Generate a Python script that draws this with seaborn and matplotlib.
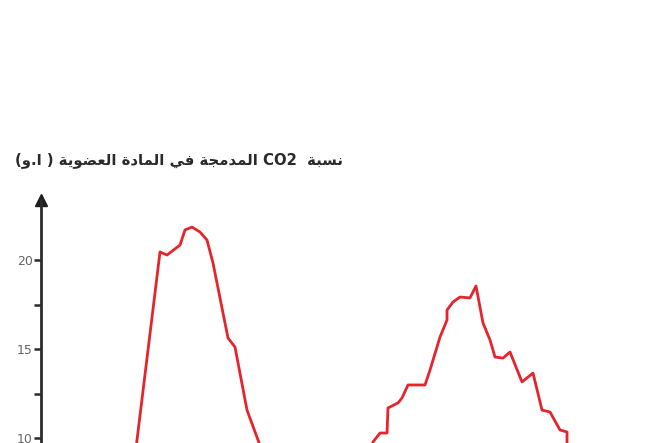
import numpy as np
import pandas as pd
import matplotlib
matplotlib.use("Agg")
import matplotlib.pyplot as plt
import seaborn as sns

# Time axis (arbitrary units) and CO2 incorporated into organic matter (a.u.)
time = [9.2, 9.6, 11.9, 12.6, 13.9, 14.4, 15.1, 15.9, 16.6, 17.2, 18.7, 19.4,
        20.6, 21.7, 22.9,
        32.4, 33.2, 33.9, 34.6, 34.7, 35.7, 36.1, 36.7, 38.4, 38.9, 39.9,
        40.6, 40.6, 41.2, 41.9, 42.9, 43.5, 44.2, 44.9, 45.4, 46.2, 46.9,
        48.1, 49.2, 50.1, 50.9, 51.9, 52.6, 52.6, 52.7]
co2 = [8.0, 9.89, 20.45, 20.28, 20.84, 21.69, 21.85, 21.57, 21.12, 19.83,
       15.62, 15.11, 11.57, 9.89, 8.0,
       8.0, 9.78, 10.28, 10.28, 11.69, 11.97, 12.25, 12.98, 12.98, 13.82,
       15.67, 16.63, 17.19, 17.64, 17.92, 17.87, 18.54, 16.46, 15.51, 14.55,
       14.49, 14.83, 13.15, 13.65, 11.57, 11.46, 10.45, 10.34, 9.72, 8.0]
order = list(range(len(time)))

ytick_major = [10, 15, 20]
ytick_minor = [12.5, 17.5]

title_words = ["نسبة", "CO2", "المدمجة", "في", "المادة", "العضوية"]
unit_label = "(\uFEED.\uFE8D )"

# Contextual Arabic letter forms: isolated, final, initial, medial
FORMS = {
    "ا": ("\uFE8D", "\uFE8E", None, None),
    "ب": ("\uFE8F", "\uFE90", "\uFE91", "\uFE92"),
    "ة": ("\uFE93", "\uFE94", None, None),
    "ج": ("\uFE9D", "\uFE9E", "\uFE9F", "\uFEA0"),
    "د": ("\uFEA9", "\uFEAA", None, None),
    "س": ("\uFEB1", "\uFEB2", "\uFEB3", "\uFEB4"),
    "ض": ("\uFEBD", "\uFEBE", "\uFEBF", "\uFEC0"),
    "ع": ("\uFEC9", "\uFECA", "\uFECB", "\uFECC"),
    "ف": ("\uFED1", "\uFED2", "\uFED3", "\uFED4"),
    "ل": ("\uFEDD", "\uFEDE", "\uFEDF", "\uFEE0"),
    "م": ("\uFEE1", "\uFEE2", "\uFEE3", "\uFEE4"),
    "ن": ("\uFEE5", "\uFEE6", "\uFEE7", "\uFEE8"),
    "و": ("\uFEED", "\uFEEE", None, None),
    "ي": ("\uFEF1", "\uFEF2", "\uFEF3", "\uFEF4"),
}


def shape(word):
    """Join Arabic letters and return them in visual (left-to-right) order."""
    if not any(ch in FORMS for ch in word):
        return word
    out = []
    for i, ch in enumerate(word):
        f = FORMS[ch]
        prev_joins = i > 0 and FORMS[word[i - 1]][2] is not None
        next_joins = f[2] is not None and i + 1 < len(word)
        if prev_joins and next_joins:
            g = f[3]
        elif prev_joins:
            g = f[1]
        elif next_joins:
            g = f[2]
        else:
            g = f[0]
        out.append(g)
    return "".join(reversed(out))


visual = [shape(w) for w in reversed(title_words)]
title_text = unit_label + " " + " ".join(visual[:-1]) + "  " + visual[-1]

df = pd.DataFrame({"time": time, "co2": co2, "order": order})

sns.set_theme(style="white")
plt.rcParams["font.family"] = ["DejaVu Sans"]

W, H = 668, 443
fig = plt.figure(figsize=(W / 100, H / 100), dpi=100)
fig.patch.set_facecolor("white")

ax_left, ax_top = 41, 200
ax = fig.add_axes([ax_left / W, 0, 1 - ax_left / W, (H - ax_top) / H])

sns.lineplot(data=df, x="time", y="co2", ax=ax, estimator=None, sort=False,
             color="#e5242c", linewidth=2.0)

ax.set_xlim(0, (W - ax_left) / 10)
ax.set_ylim(9.72, 20 + (260 - ax_top) / 17.8)

for side in ["top", "right", "bottom"]:
    ax.spines[side].set_visible(False)
ax.spines["left"].set_color("#2b2b2b")
ax.spines["left"].set_linewidth(2.0)

ax.set_xticks([])
ax.set_yticks(ytick_major)
ax.set_yticks(ytick_minor, minor=True)
ax.set_yticklabels([str(v) for v in ytick_major])
ax.tick_params(axis="y", which="both", direction="out", left=True,
               length=5, width=1.8, color="#2b2b2b", pad=1,
               labelsize=9, labelcolor="#666666")
ax.set_xlabel("")
ax.set_ylabel("")

# Arrow head at the top of the vertical axis
ax.plot([0], [1.0], marker="^", markersize=9, color="#1e1e1e",
        transform=ax.transAxes, clip_on=False)

fig.text(15 / W, 1 - 160 / H, title_text, ha="left", va="center",
         fontsize=10.7, fontweight="bold", color="#2a2a2a")

fig.savefig("out.png", dpi=100, facecolor="white")
